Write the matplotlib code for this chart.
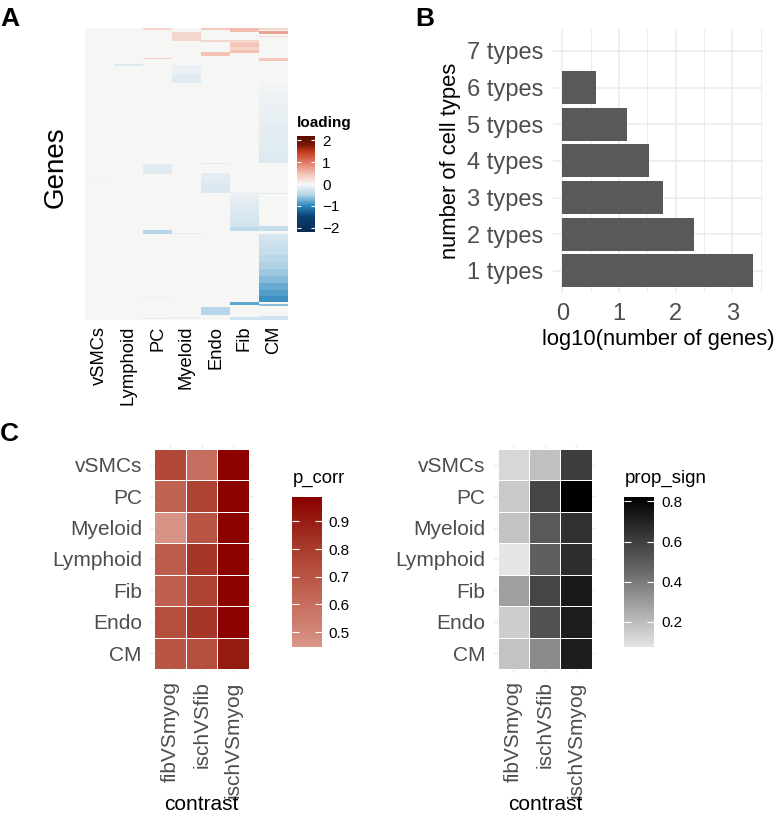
import numpy as np
import matplotlib.pyplot as plt
from matplotlib.colors import LinearSegmentedColormap, Normalize
from matplotlib.cm import ScalarMappable

plt.rcParams['font.family'] = ['Liberation Sans', 'DejaVu Sans']

W, H = 775, 815

# ---- panel A: gene loadings per cell type (blocks of genes) ----
cell_types = ['vSMCs', 'Lymphoid', 'PC', 'Myeloid', 'Endo', 'Fib', 'CM']
n_genes = 292
# (cell type, first gene, last gene, loading)
loading_blocks = [
    ('vSMCs', 150, 151, -0.05),
    ('Lymphoid', 36, 38, -0.18),
    ('PC', 0, 2, 0.3), ('PC', 30, 31, 0.35), ('PC', 136, 146, -0.16),
    ('PC', 202, 206, -0.45), ('PC', 269, 270, -0.12), ('PC', 290, 291, -0.15),
    ('Myeloid', 4, 13, 0.28), ('Myeloid', 37, 46, -0.1), ('Myeloid', 46, 55, -0.17),
    ('Myeloid', 205, 206, -0.15), ('Myeloid', 289, 290, -0.15),
    ('Endo', 0, 2, 0.4), ('Endo', 12, 14, 0.3), ('Endo', 24, 28, 0.45),
    ('Endo', 135, 136, -0.15), ('Endo', 145, 155, -0.14), ('Endo', 155, 165, -0.22),
    ('Endo', 279, 287, -0.45),
    ('Fib', 0, 4, 0.5), ('Fib', 12, 15, 0.3), ('Fib', 15, 19, 0.45),
    ('Fib', 19, 22, 0.3), ('Fib', 22, 25, 0.45),
    ('Fib', 164, 171, -0.1), ('Fib', 171, 178, -0.14), ('Fib', 178, 185, -0.18),
    ('Fib', 185, 192, -0.22), ('Fib', 192, 199, -0.27),
    ('Fib', 199, 203, -0.4), ('Fib', 274, 277, -0.8), ('Fib', 289, 292, -0.28),
    ('CM', 0, 2, 0.3), ('CM', 3, 6, 0.7), ('CM', 8, 9, 0.25), ('CM', 30, 33, 0.42),
    ('CM', 55, 65, -0.05), ('CM', 65, 75, -0.07), ('CM', 75, 85, -0.09),
    ('CM', 85, 95, -0.11), ('CM', 95, 105, -0.13), ('CM', 105, 115, -0.15),
    ('CM', 115, 125, -0.17), ('CM', 125, 135, -0.19),
    ('CM', 165, 166, -0.2), ('CM', 198, 203, -0.35),
    ('CM', 206, 213, -0.25), ('CM', 213, 220, -0.3), ('CM', 220, 227, -0.36),
    ('CM', 227, 234, -0.43), ('CM', 234, 241, -0.5), ('CM', 241, 248, -0.58),
    ('CM', 248, 255, -0.67), ('CM', 255, 262, -0.76), ('CM', 262, 268, -0.85),
    ('CM', 268, 274, -0.92),
    ('CM', 276, 278, -0.65), ('CM', 288, 292, -0.28),
]

# ---- panel B: genes shared by n cell types ----
type_labels = ['1 types', '2 types', '3 types', '4 types', '5 types', '6 types', '7 types']
genes_per_type = [2340, 210, 61, 34, 14, 4, 1]

# ---- panel C: contrasts ----
contrasts = ['fibVSmyog', 'ischVSfib', 'ischVSmyog']
c_cells = ['CM', 'Endo', 'Fib', 'Lymphoid', 'Myeloid', 'PC', 'vSMCs']
p_corr_fib_myog = [0.70, 0.73, 0.66, 0.67, 0.46, 0.65, 0.75]
p_corr_isch_fib = [0.73, 0.82, 0.77, 0.82, 0.70, 0.77, 0.60]
p_corr_isch_myog = [0.91, 0.99, 0.98, 0.98, 0.98, 0.98, 0.98]
prop_fib_myog = [0.18, 0.15, 0.285, 0.074, 0.18, 0.164, 0.12]
prop_isch_fib = [0.35, 0.54, 0.58, 0.49, 0.51, 0.58, 0.19]
prop_isch_myog = [0.72, 0.72, 0.73, 0.66, 0.65, 0.82, 0.61]


fig = plt.figure(figsize=(W / 100, H / 100), dpi=100)


# axes from pixel box (x0, y0 top, x1, y1 bottom)
def px_axes(x0, y0, x1, y1):
    return fig.add_axes([x0 / W, 1 - y1 / H, (x1 - x0) / W, (y1 - y0) / H])


def px_text(x, y, s, **kw):
    return fig.text(x / W, 1 - y / H, s, **kw)


def colorbar(box, cmap, norm, ticks, labelsize=11, tick_len=4):
    cax = px_axes(*box)
    cb = fig.colorbar(ScalarMappable(norm=norm, cmap=cmap), cax=cax)
    cb.outline.set_visible(False)
    cb.set_ticks(ticks)
    cax.tick_params(axis='y', direction='in', length=tick_len, width=0.8, color='white',
                    left=True, right=True, labelleft=False, labelright=True,
                    labelsize=labelsize, pad=5)
    return cb


# ================= A =================
mat = np.zeros((n_genes, len(cell_types)))
for cell, start, stop, val in loading_blocks:
    mat[start:stop, cell_types.index(cell)] = val

# stops given in loading units, scale runs -2.2 .. 2.2
load_stops = [(-2.2, '#0a2b50'), (-1.5, '#0b4072'), (-1.0, '#2a86bd'), (-0.5, '#b3d4e8'),
              (0.0, '#f7f7f7'), (0.5, '#f3bfb0'), (1.0, '#e07a66'), (1.5, '#c0391a'),
              (1.8, '#7a1a05'), (2.2, '#5a0c00')]
load_cmap = LinearSegmentedColormap.from_list(
    'load', [((v + 2.2) / 4.4, c) for v, c in load_stops])
load_norm = Normalize(-2.2, 2.2)

ax = px_axes(85, 28, 288, 320)
ax.imshow(mat, aspect='auto', cmap=load_cmap, norm=load_norm, interpolation='nearest',
          extent=[0.5, len(cell_types) + 0.5, n_genes, 0])
ax.set_xticks(np.arange(1, len(cell_types) + 1))
ax.set_xticklabels(cell_types, rotation=90, fontsize=13.2, color='black')
ax.set_yticks([])
ax.tick_params(axis='x', length=0, pad=4)
for s in ax.spines.values():
    s.set_visible(False)
px_text(56, 167, 'Genes', rotation=90, ha='center', va='center', fontsize=20)

colorbar((297, 136, 315, 232), load_cmap, load_norm, [-2, -1, 0, 1, 2], tick_len=3)
px_text(297, 123, 'loading', ha='left', va='center', fontsize=11, fontweight='bold')

# ================= B =================
ax = px_axes(552.7, 29, 763, 293)
ypos = np.arange(1, len(type_labels) + 1)
ax.barh(ypos, np.log10(genes_per_type), height=0.9, color='#595959', zorder=2)
ax.set_xlim(-0.168, 3.54)
ax.set_ylim(0.4, 7.6)
ax.set_yticks(ypos)
ax.set_yticklabels(type_labels)
ax.set_xticks([0, 1, 2, 3])
ax.set_xticks(np.arange(0.5, 4, 1), minor=True)
ax.set_axisbelow(True)
ax.grid(True, which='major', color='#ebebeb', lw=1.1)
ax.grid(True, which='minor', axis='x', color='#ebebeb', lw=0.6)
ax.tick_params(which='both', length=0, pad=7, labelsize=17, labelcolor='#4d4d4d')
for s in ax.spines.values():
    s.set_visible(False)
ax.set_xlabel('log10(number of genes)', fontsize=15.8, labelpad=3)
ax.set_ylabel('number of cell types', fontsize=15.8, labelpad=4)

# ================= C =================
corr_cmap = LinearSegmentedColormap.from_list('corr', [
    (0.0, '#d8988b'), ((0.5 - 0.445) / 0.542, '#d28778'), ((0.6 - 0.445) / 0.542, '#c66e5f'),
    ((0.7 - 0.445) / 0.542, '#b95544'), ((0.8 - 0.445) / 0.542, '#aa3c2d'),
    ((0.9 - 0.445) / 0.542, '#961e14'), (1.0, '#8b0000')])
corr_norm = Normalize(0.445, 0.987)
gray_cmap = LinearSegmentedColormap.from_list('gr', [
    (0.0, '#e6e6e6'), (0.25, '#a8a8a8'), (0.5, '#6b6b6b'), (0.75, '#363636'), (1.0, '#000000')])
gray_norm = Normalize(0.074, 0.82)


def tile_heatmap(box, columns, cmap, norm, cx):
    ax = px_axes(*box)
    m = np.column_stack(columns)
    ax.pcolormesh(np.arange(0.5, len(contrasts) + 1), np.arange(0.5, len(c_cells) + 1), m,
                  cmap=cmap, norm=norm, edgecolors='white', linewidth=0.6, zorder=2)
    ax.set_xlim(0.373, 3.627)
    ax.set_ylim(0.373, 7.627)
    ax.set_xticks(np.arange(1, len(contrasts) + 1))
    ax.set_xticklabels(contrasts, rotation=90)
    ax.set_yticks(np.arange(1, len(c_cells) + 1))
    ax.set_yticklabels(c_cells)
    ax.set_axisbelow(True)
    ax.grid(True, color='#ebebeb', lw=1.0)
    ax.tick_params(length=0, pad=6, labelsize=15, labelcolor='#4d4d4d')
    for s in ax.spines.values():
        s.set_visible(False)
    px_text(cx, 814, 'contrast', ha='center', va='bottom', fontsize=15)
    return ax


tile_heatmap((150.3, 445, 253, 673), [p_corr_fib_myog, p_corr_isch_fib, p_corr_isch_myog],
             corr_cmap, corr_norm, 201.7)
colorbar((291.7, 497.3, 321.7, 647.3), corr_cmap, corr_norm, [0.5, 0.6, 0.7, 0.8, 0.9], tick_len=5)
px_text(292.7, 483, 'p_corr', ha='left', va='baseline', fontsize=13.3)

tile_heatmap((493.7, 445, 595.7, 673), [prop_fib_myog, prop_isch_fib, prop_isch_myog],
             gray_cmap, gray_norm, 545)
colorbar((624.3, 497.3, 654, 647.3), gray_cmap, gray_norm, [0.2, 0.4, 0.6, 0.8], tick_len=5)
px_text(624.3, 483, 'prop_sign', ha='left', va='baseline', fontsize=13.5)

# panel letters
px_text(0, 26, 'A', ha='left', va='baseline', fontsize=19, fontweight='bold')
px_text(415, 26, 'B', ha='left', va='baseline', fontsize=19, fontweight='bold')
px_text(0, 441, 'C', ha='left', va='baseline', fontsize=19, fontweight='bold')

fig.savefig('out.png', dpi=100)
